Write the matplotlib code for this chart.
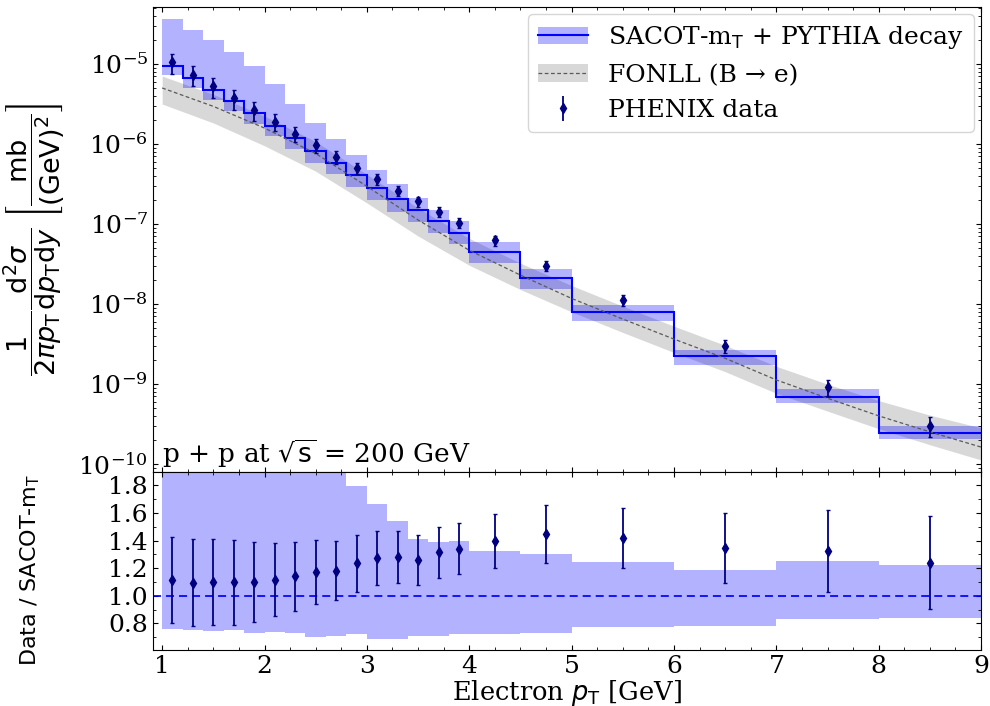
import numpy as np
import matplotlib
matplotlib.use("Agg")
import matplotlib.pyplot as plt
from matplotlib.patches import Patch
from matplotlib.lines import Line2D
from matplotlib.ticker import AutoMinorLocator, MultipleLocator, LogLocator, FormatStrFormatter

plt.rcParams['font.family'] = ['DejaVu Serif']
plt.rcParams['mathtext.fontset'] = 'dejavusans'
plt.rcParams['font.size'] = 18

# ---- SACOT-mT + PYTHIA decay (binned) ----
bin_edges = [1.0, 1.2, 1.4, 1.6, 1.8, 2.0, 2.2, 2.4, 2.6, 2.8, 3.0, 3.2, 3.4, 3.6,
             3.8, 4.0, 4.5, 5.0, 6.0, 7.0, 8.0, 9.0]
sacot_central = [9.44e-6, 6.73e-6, 4.76e-6, 3.40e-6, 2.41e-6, 1.70e-6, 1.18e-6,
                 8.26e-7, 5.85e-7, 4.06e-7, 2.85e-7, 2.03e-7, 1.51e-7, 1.08e-7,
                 7.74e-8, 4.44e-8, 2.08e-8, 7.82e-9, 2.23e-9, 6.90e-10, 2.43e-10]
sacot_up_ratio = [3.84, 3.98, 4.20, 4.15, 3.88, 3.30, 2.65, 2.24, 1.97, 1.793,
                  1.667, 1.54, 1.412, 1.388, 1.398, 1.323, 1.301, 1.248, 1.19,
                  1.255, 1.22]
sacot_dn_ratio = [0.761, 0.752, 0.745, 0.749, 0.733, 0.737, 0.730, 0.704, 0.711,
                  0.720, 0.690, 0.689, 0.708, 0.711, 0.725, 0.725, 0.731, 0.771,
                  0.780, 0.829, 0.839]

# ---- PHENIX data (as ratio to SACOT central) ----
data_pt = [1.1, 1.3, 1.5, 1.7, 1.9, 2.1, 2.3, 2.5, 2.7, 2.9, 3.1, 3.3, 3.5, 3.7,
           3.9, 4.25, 4.75, 5.5, 6.5, 7.5, 8.5]
data_ratio = [1.113, 1.094, 1.099, 1.099, 1.099, 1.118, 1.142, 1.173, 1.183, 1.236,
              1.272, 1.282, 1.263, 1.316, 1.342, 1.398, 1.450, 1.417, 1.349, 1.323,
              1.241]
data_ratio_hi = [1.427, 1.410, 1.414, 1.405, 1.390, 1.386, 1.393, 1.407, 1.395, 1.440,
                 1.470, 1.472, 1.440, 1.500, 1.530, 1.590, 1.660, 1.639, 1.602, 1.622,
                 1.576]
data_ratio_lo = [0.800, 0.780, 0.785, 0.790, 0.810, 0.850, 0.890, 0.940, 0.970, 1.030,
                 1.075, 1.096, 1.080, 1.130, 1.157, 1.205, 1.240, 1.198, 1.096, 1.024,
                 0.904]

# ---- FONLL (B -> e) ----
fonll_pt = [1.0, 1.5, 2.0, 2.5, 3.0, 3.5, 4.0, 4.5, 5.0, 5.5, 6.0, 6.5, 7.0, 7.5,
            8.0, 8.5, 9.0]
fonll_central = [5.01e-6, 2.95e-6, 1.58e-6, 7.59e-7, 2.95e-7, 1.12e-7, 4.68e-8,
                 2.29e-8, 1.17e-8, 6.46e-9, 3.63e-9, 2.09e-9, 1.12e-9, 6.61e-10,
                 3.98e-10, 2.51e-10, 1.62e-10]
fonll_up_factor = [1.41, 1.41, 1.41, 1.41, 1.41, 1.41, 1.41, 1.41, 1.45, 1.45, 1.45,
                   1.45, 1.48, 1.50, 1.55, 1.62, 1.74]
fonll_dn_factor = [0.63, 0.62, 0.60, 0.60, 0.62, 0.63, 0.65, 0.66, 0.68, 0.68, 0.68,
                   0.68, 0.68, 0.69, 0.69, 0.69, 0.69]

edges = np.array(bin_edges)
cen = np.array(sacot_central)
up_r = np.array(sacot_up_ratio)
dn_r = np.array(sacot_dn_ratio)
dr = np.array(data_ratio)
dr_hi = np.array(data_ratio_hi)
dr_lo = np.array(data_ratio_lo)
fc = np.array(fonll_central)

blue = '#0000ff'
navy = '#000080'

fig = plt.figure(figsize=(9.9, 7.06), dpi=100)
ax1 = fig.add_axes([0.1545, 0.3314, 0.8365, 0.6591])
ax2 = fig.add_axes([0.1545, 0.0793, 0.8365, 0.2521], sharex=ax1)

# top panel
ax1.fill_between(fonll_pt, fc * np.array(fonll_dn_factor), fc * np.array(fonll_up_factor),
                 color='gray', alpha=0.3, lw=0)
ax1.plot(fonll_pt, fc, color='0.35', lw=0.9, ls=(0, (3, 2)))
ax1.stairs(cen * up_r, edges, baseline=cen * dn_r, fill=True, color=blue, alpha=0.3, lw=0)
ax1.stairs(cen, edges, baseline=None, color=blue, lw=1.5)

bin_cen = np.array(data_pt)
dy = dr * cen
ax1.errorbar(bin_cen, dy, yerr=[dy - dr_lo * cen, dr_hi * cen - dy], fmt='d', color=navy,
             ms=5, capsize=1.5, elinewidth=1.3, capthick=1.0)

ax1.set_yscale('log')
ax1.set_ylim(7.9e-11, 5.2e-5)
ax1.set_xlim(0.91, 9.0)
ax1.tick_params(which='both', direction='in', top=True, right=True, labelbottom=False)
ax1.yaxis.set_minor_locator(LogLocator(base=10, subs=np.arange(2, 10), numticks=20))
ax1.text(0.011, 0.004, r'p + p at $\sqrt{\mathrm{s}}$ = 200 GeV', transform=ax1.transAxes,
         ha='left', va='bottom', fontsize=19)
ax1.set_ylabel(r'$\dfrac{1}{2\pi p_\mathrm{T}}\dfrac{\mathrm{d}^2\sigma}{\mathrm{d}p_\mathrm{T}\mathrm{d}y}\ \left[\dfrac{\mathrm{mb}}{(\mathrm{GeV})^2}\right]$',
               fontsize=19.5)
ax1.yaxis.set_label_coords(-0.104, 0.5)

h_sacot = (Patch(facecolor=blue, alpha=0.3, lw=0), Line2D([], [], color=blue, lw=1.5))
h_fonll = (Patch(facecolor='gray', alpha=0.3, lw=0), Line2D([], [], color='0.35', lw=0.9, ls=(0, (3, 2))))
h_data = ax1.errorbar([], [], yerr=[], fmt='d', color=navy, ms=5, capsize=1.5, elinewidth=1.3)
ax1.legend([h_sacot, h_fonll, h_data],
           [r'SACOT-m$_\mathrm{T}$ + PYTHIA decay', 'FONLL (B \u2192 e)', 'PHENIX data'],
           loc='upper right', fontsize=18, borderaxespad=0.3)

# bottom panel
ax2.stairs(up_r, edges, baseline=dn_r, fill=True, color=blue, alpha=0.3, lw=0)
ax2.axhline(1.0, color=blue, lw=1.25, ls=(0, (4.6, 2.9)))
ax2.errorbar(bin_cen, dr, yerr=[dr - dr_lo, dr_hi - dr], fmt='d', color=navy,
             ms=5, capsize=1.5, elinewidth=1.3, capthick=1.0)
ax2.set_ylim(0.607, 1.897)
ax2.set_xlim(0.91, 9.0)
ax2.yaxis.set_major_locator(MultipleLocator(0.2))
ax2.yaxis.set_minor_locator(MultipleLocator(0.1))
ax2.xaxis.set_major_locator(MultipleLocator(1))
ax2.xaxis.set_minor_locator(AutoMinorLocator(4))
ax2.yaxis.set_major_formatter(FormatStrFormatter('%.1f'))
ax2.tick_params(which='both', direction='in', top=True, right=True)
ax2.set_xlabel(r'Electron $p_\mathrm{T}$ [GeV]', fontsize=18.5, labelpad=0)
ax2.set_ylabel(r'Data / SACOT-m$_\mathrm{T}$', fontsize=16, family='DejaVu Sans')
ax2.yaxis.set_label_coords(-0.134, 0.45)

fig.savefig('out.png', dpi=100)
